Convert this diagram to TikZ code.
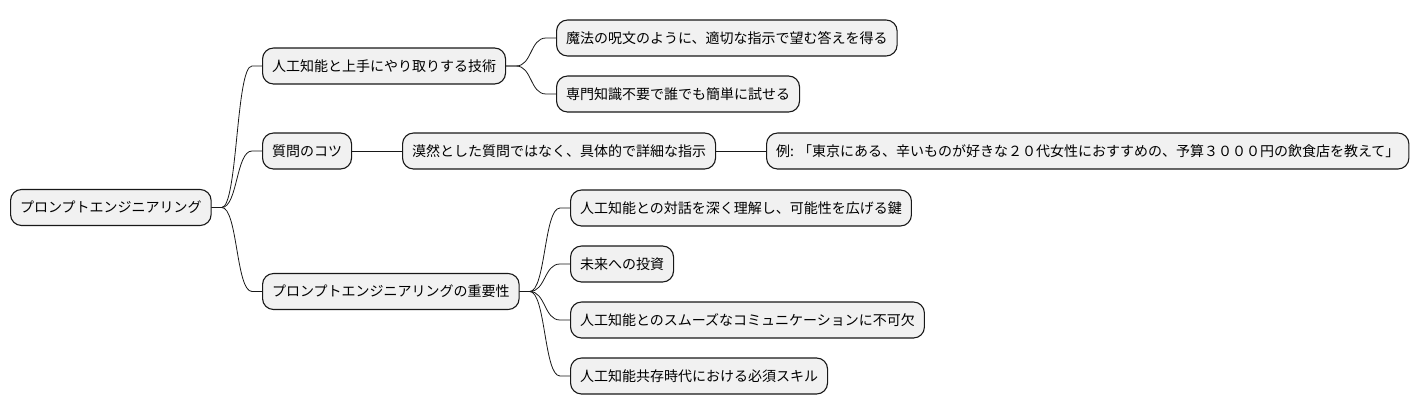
\documentclass[tikz,border=0pt]{standalone}
\usepackage{fontspec}
\setmainfont{Noto Sans CJK JP}
\usepackage{xcolor}
\definecolor{boxfill}{HTML}{F1F1F1}
\definecolor{boxline}{HTML}{181818}
\tikzset{
  topic/.style={draw=boxline, fill=boxfill, line width=1.1pt, rounded corners=11pt,
    anchor=west, minimum height=36pt, inner xsep=9.5pt, font=\fontsize{14}{16}\selectfont},
  branch/.style={draw=boxline, line width=0.8pt},
}
\newcommand{\linkto}[2]{\draw[branch] (#1.east) -- ++(10,0) .. controls +(16,0) and +(-16,0) .. ([xshift=-10pt]#2.west) -- (#2.west);}
\begin{document}
\begin{tikzpicture}[x=1pt, y=-1pt]
  \useasboundingbox (0,0) rectangle (1422,415);

  % root
  \node[topic] (root) at (10,207.5) {プロンプトエンジニアリング};

  % first level
  \node[topic] (skill) at (262,66) {人工知能と上手にやり取りする技術};
  \node[topic] (tips) at (262,151) {質問のコツ};
  \node[topic] (value) at (262,291.5) {プロンプトエンジニアリングの重要性};

  % skill
  \node[topic] (spell) at (556,38) {魔法の呪文のように、適切な指示で望む答えを得る};
  \node[topic] (easy) at (556,94) {専門知識不要で誰でも簡単に試せる};

  % tips
  \node[topic] (detail) at (402,151) {漠然とした質問ではなく、具体的で詳細な指示};
  \node[topic] (sample) at (766,151) {例: 「東京にある、辛いものが好きな２０代女性におすすめの、予算３０００円の飲食店を教えて」};

  % value
  \node[topic] (key) at (570,208) {人工知能との対話を深く理解し、可能性を広げる鍵};
  \node[topic] (future) at (570,264) {未来への投資};
  \node[topic] (talk) at (570,320) {人工知能とのスムーズなコミュニケーションに不可欠};
  \node[topic] (must) at (570,376) {人工知能共存時代における必須スキル};

  % links
  \linkto{root}{skill}
  \linkto{root}{tips}
  \linkto{root}{value}
  \linkto{skill}{spell}
  \linkto{skill}{easy}
  \draw[branch] (tips) -- (detail);
  \draw[branch] (detail) -- (sample);
  \linkto{value}{key}
  \linkto{value}{future}
  \linkto{value}{talk}
  \linkto{value}{must}
\end{tikzpicture}
\end{document}
